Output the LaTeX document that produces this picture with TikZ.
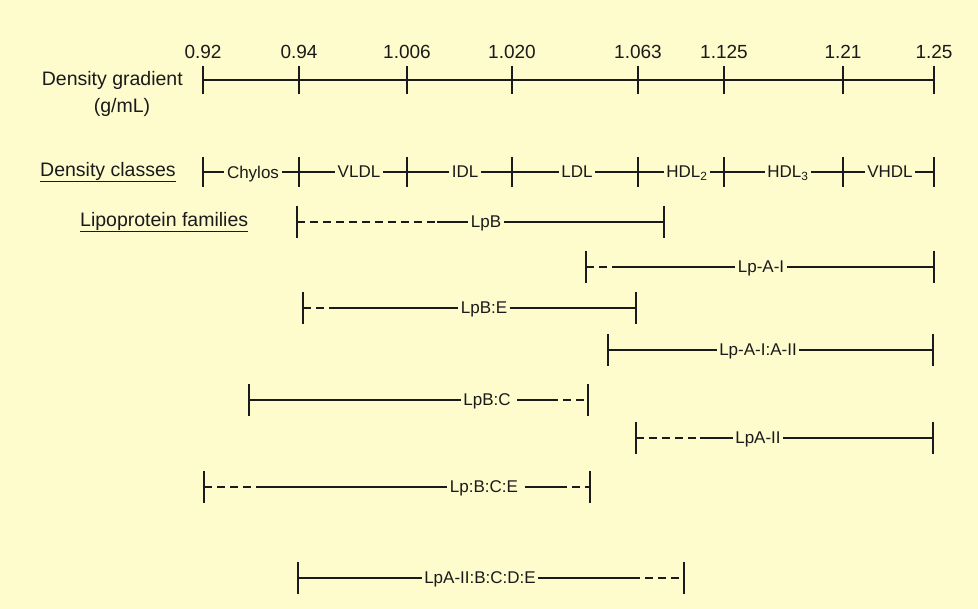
\documentclass[tikz,border=0pt]{standalone}
\usepackage{fontspec}
\setmainfont{Liberation Sans}
\definecolor{bg}{HTML}{FEFBCD}
\definecolor{ink}{HTML}{1A1A1A}
\begin{document}
\begin{tikzpicture}[x=1pt,y=-1pt,
  bar/.style={draw=ink,line width=1.5pt},
  dsh/.style={bar,dash pattern=on 8pt off 5pt},
  lbl/.style={inner sep=2.5pt,text=ink,text depth=0pt,font=\fontsize{17}{19}\selectfont},
  num/.style={inner sep=0pt,text=ink,font=\fontsize{19}{21}\selectfont},
  head/.style={inner sep=0pt,text=ink,font=\fontsize{19.5}{22}\selectfont}]
\fill[bg] (0,0) rectangle (978,609);
\useasboundingbox (0,0) rectangle (978,609);
\newcommand\tk[2][15]{\draw[bar] (#2) ++(0,-#1) -- ++(0,2*#1);}
% ---------- density gradient axis ----------
\node[head,anchor=east] (dg) at (183,80) {Density gradient};
\node[head] (gml) at (122,107) {(g/mL)};
\foreach \n/\x/\t in {1/203/0.92,2/299/0.94,3/407/1.006,4/512/1.020,5/638/1.063,6/724/1.125,7/843/1.21,8/934/1.25}{
  \coordinate (a\n) at (\x,80);
  \node[num] (n\n) at (\x,52) {\t};
  \tk[14]{a\n}
}
\draw[bar] (a1) -- (a8);
% ---------- density classes ----------
\node[head,anchor=west] (dc) at (40,172) {\underline{Density classes}};
\foreach \n/\x in {1/203,2/299,3/407,4/512,5/638,6/724,7/843,8/934}{
  \coordinate (c\n) at (\x,172);
  \tk{c\n}
}
\node[lbl] (chy) at (253,172) {Chylos};
\node[lbl] (vldl) at (359,172) {VLDL};
\node[lbl] (idl) at (465,172) {IDL};
\node[lbl] (ldl) at (577,172) {LDL};
\node[lbl] (hdl2) at (687,172) {HDL\textsubscript{2}};
\node[lbl] (hdl3) at (788,172) {HDL\textsubscript{3}};
\node[lbl] (vhdl) at (890,172) {VHDL};
\draw[bar] (c1) -- (chy.west) (chy.east) -- (c2) -- (vldl.west) (vldl.east) -- (c3) -- (idl.west)
  (idl.east) -- (c4) -- (ldl.west) (ldl.east) -- (c5) -- (hdl2.west) (hdl2.east) -- (c6) -- (hdl3.west)
  (hdl3.east) -- (c7) -- (vhdl.west) (vhdl.east) -- (c8);
% ---------- lipoprotein families ----------
\node[head,anchor=west] (lf) at (80,222) {\underline{Lipoprotein families}};
% LpB
\coordinate (b1s) at (297,222); \coordinate (b1d) at (437,222); \coordinate (b1e) at (664,222);
\node[lbl] (b1l) at (486,222) {LpB};
\draw[dsh] (b1s) -- (b1d); \draw[bar] (b1d) -- (b1l.west) (b1l.east) -- (b1e);
\tk[16]{b1s} \tk[16]{b1e}
% Lp-A-I
\coordinate (b2s) at (586,267); \coordinate (b2d) at (620,267); \coordinate (b2e) at (934,267);
\node[lbl] (b2l) at (761,267) {Lp-A-I};
\draw[dsh] (b2s) -- (b2d); \draw[bar] (b2d) -- (b2l.west) (b2l.east) -- (b2e);
\tk[16]{b2s} \tk[16]{b2e}
% LpB:E
\coordinate (b3s) at (303,308); \coordinate (b3d) at (337,308); \coordinate (b3e) at (636,308);
\node[lbl] (b3l) at (484,308) {LpB:E};
\draw[dsh] (b3s) -- (b3d); \draw[bar] (b3d) -- (b3l.west) (b3l.east) -- (b3e);
\tk[16]{b3s} \tk[16]{b3e}
% Lp-A-I:A-II
\coordinate (b4s) at (608,350); \coordinate (b4e) at (933,350);
\node[lbl] (b4l) at (758,350) {Lp-A-I:A-II};
\draw[bar] (b4s) -- (b4l.west) (b4l.east) -- (b4e);
\tk[16]{b4s} \tk[16]{b4e}
% LpB:C
\coordinate (b5s) at (249,400); \coordinate (b5d) at (550,400); \coordinate (b5e) at (588,400);
\node[lbl] (b5l) at (487,400) {LpB:C};
\draw[bar] (b5s) -- (b5l.west); \draw[bar] ([xshift=4pt]b5l.east) -- (b5d); \draw[dsh] (b5d) -- (b5e);
\tk[16]{b5s} \tk[16]{b5e}
% LpA-II
\coordinate (b6s) at (636,438); \coordinate (b6d) at (700,438); \coordinate (b6e) at (933,438);
\node[lbl] (b6l) at (758,438) {LpA-II};
\draw[dsh] (b6s) -- (b6d); \draw[bar] (b6d) -- (b6l.west) (b6l.east) -- (b6e);
\tk[16]{b6s} \tk[16]{b6e}
% Lp:B:C:E
\coordinate (b7s) at (204,487); \coordinate (b7d) at (260,487); \coordinate (b7f) at (559,487); \coordinate (b7e) at (590,487);
\node[lbl] (b7l) at (484,487) {Lp:B:C:E};
\draw[dsh] (b7s) -- (b7d); \draw[bar] (b7d) -- (b7l.west); \draw[bar] ([xshift=4pt]b7l.east) -- (b7f); \draw[dsh] (b7f) -- (b7e);
\tk[16]{b7s} \tk[16]{b7e}
% LpA-II:B:C:D:E
\coordinate (b8s) at (298,578); \coordinate (b8d) at (632,578); \coordinate (b8e) at (684,578);
\node[lbl] (b8l) at (480,578) {LpA-II:B:C:D:E};
\draw[bar] (b8s) -- (b8l.west) (b8l.east) -- (b8d); \draw[dsh] (b8d) -- (b8e);
\tk[16]{b8s} \tk[16]{b8e}
\end{tikzpicture}
\end{document}
